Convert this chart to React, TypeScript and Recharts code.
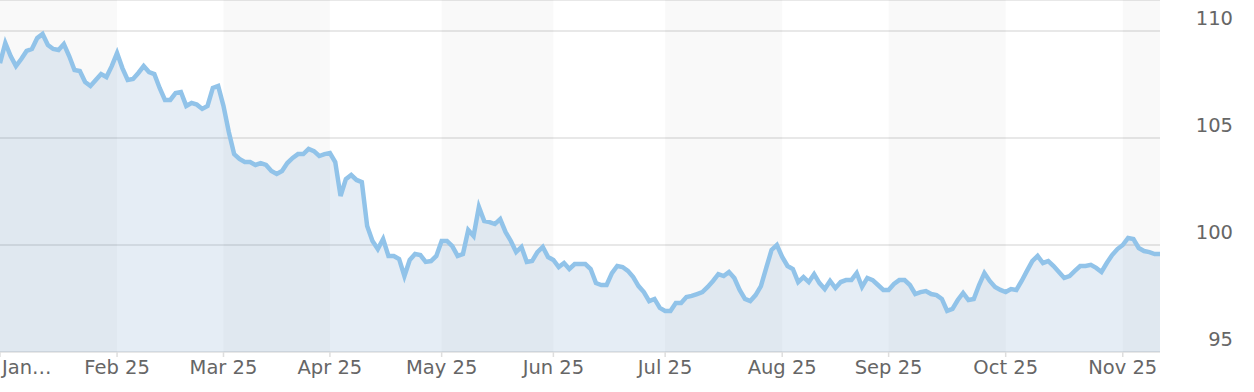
import * as React from 'react';
import { AreaChart, Area, XAxis, YAxis, CartesianGrid, ReferenceArea } from 'recharts';

// one value per trading day, Jan 25 .. Nov 25
const prices = [
  108.5, 109.44, 108.83, 108.36, 108.69, 109.07, 109.16, 109.67, 109.86, 109.35,
  109.16, 109.11, 109.39, 108.83, 108.18, 108.13, 107.62, 107.43, 107.71, 107.99,
  107.85, 108.36, 108.97, 108.27, 107.71, 107.76, 108.04, 108.36, 108.08, 107.99,
  107.34, 106.78, 106.78, 107.1, 107.15, 106.5, 106.64, 106.56, 106.36, 106.5,
  107.34, 107.43, 106.5, 105.28, 104.25, 104.02, 103.88, 103.88, 103.74, 103.83,
  103.74, 103.46, 103.32, 103.46, 103.83, 104.07, 104.25, 104.25, 104.49, 104.39,
  104.16, 104.25, 104.3, 103.88, 102.29, 103.08, 103.27, 103.04, 102.94, 100.89,
  100.19, 99.81, 100.28, 99.49, 99.49, 99.35, 98.55, 99.3, 99.58, 99.53,
  99.21, 99.25, 99.49, 100.19, 100.19, 99.95, 99.49, 99.58, 100.7, 100.42,
  101.78, 101.12, 101.07, 100.98, 101.21, 100.61, 100.19, 99.67, 99.91, 99.21,
  99.25, 99.67, 99.91, 99.44, 99.3, 98.97, 99.16, 98.88, 99.11, 99.11,
  99.11, 98.88, 98.22, 98.13, 98.13, 98.69, 99.02, 98.97, 98.79, 98.5,
  98.08, 97.8, 97.38, 97.48, 97.06, 96.92, 96.92, 97.29, 97.29, 97.57,
  97.62, 97.71, 97.8, 98.04, 98.32, 98.64, 98.55, 98.74, 98.46, 97.9,
  97.48, 97.38, 97.66, 98.08, 98.93, 99.77, 100.0, 99.44, 99.02, 98.88,
  98.27, 98.5, 98.27, 98.64, 98.22, 97.94, 98.32, 97.99, 98.27, 98.36,
  98.36, 98.69, 98.04, 98.46, 98.36, 98.13, 97.9, 97.9, 98.18, 98.36,
  98.36, 98.13, 97.71, 97.8, 97.85, 97.71, 97.66, 97.48, 96.92, 97.01,
  97.43, 97.76, 97.43, 97.48, 98.13, 98.69, 98.32, 98.04, 97.9, 97.8,
  97.94, 97.9, 98.32, 98.79, 99.25, 99.49, 99.16, 99.25, 99.02, 98.74,
  98.46, 98.55, 98.79, 99.02, 99.02, 99.07, 98.93, 98.74, 99.16, 99.53,
  99.81, 100.0, 100.33, 100.28, 99.86, 99.72, 99.67, 99.58, 99.58,
];

// first trading day of each month (index into prices)
const monthStarts = [0, 22, 42, 62, 83, 104, 125, 147, 167, 189, 211];
const monthLabels = ['Jan…', 'Feb 25', 'Mar 25', 'Apr 25', 'May 25', 'Jun 25', 'Jul 25', 'Aug 25', 'Sep 25', 'Oct 25', 'Nov 25'];
const yTicks = [95, 100, 105, 110];

const W = 1254;
const H = 392;
const FONT = '"DejaVu Sans", sans-serif';

const data = prices.map((v, i) => ({ i, v }));
const lastIndex = prices.length - 1;

// every other month gets a light band
const bands = monthStarts
  .map((start, k) => ({ start, end: k + 1 < monthStarts.length ? monthStarts[k + 1] : lastIndex }))
  .filter((_, k) => k % 2 === 0);

const XTick = (props: any) => {
  const { x, y, payload } = props;
  const k = monthStarts.indexOf(payload.value);
  if (k < 0) return null;
  const first = k === 0;
  return (
    <text x={first ? x + 2 : x} y={y + 15} textAnchor={first ? 'start' : 'middle'}
      fill="#666" fontSize={19.5} fontFamily={FONT}>
      {monthLabels[k]}
    </text>
  );
};

const YTick = (props: any) => {
  const { y, payload } = props;
  return (
    <text x={W - 21} y={y - 6} textAnchor="end" fill="#666" fontSize={19.5} fontFamily={FONT}>
      {payload.value}
    </text>
  );
};

export default function App() {
  return (
    <div style={{ position: 'absolute', left: 0, top: 0, width: W, height: H, background: '#fff' }}>
      <AreaChart width={W} height={H} data={data} margin={{ top: 0, right: 0, left: 0, bottom: 0 }}>
        <CartesianGrid vertical={false} stroke="#e8e8e8" strokeWidth={2} />
        {bands.map((b) => (
          <ReferenceArea key={b.start} x1={b.start} x2={b.end} fill="#000" fillOpacity={0.024}
            stroke="none" ifOverflow="visible" />
        ))}
        <XAxis dataKey="i" type="number" domain={[0, lastIndex]} ticks={monthStarts}
          height={40} axisLine={false} tickSize={5} tickLine={{ stroke: '#dedede', strokeWidth: 1.5 }}
          tick={<XTick />} interval={0} />
        <YAxis orientation="right" width={94} domain={[95, 111.45]} ticks={yTicks}
          axisLine={false} tickLine={false} tick={<YTick />} allowDataOverflow />
        <Area type="linear" dataKey="v" baseValue={95} stroke="#91c3e9" strokeWidth={4.5}
          fill="#5f8fc0" fillOpacity={0.16} dot={false} activeDot={false}
          isAnimationActive={false} />
      </AreaChart>
    </div>
  );
}
